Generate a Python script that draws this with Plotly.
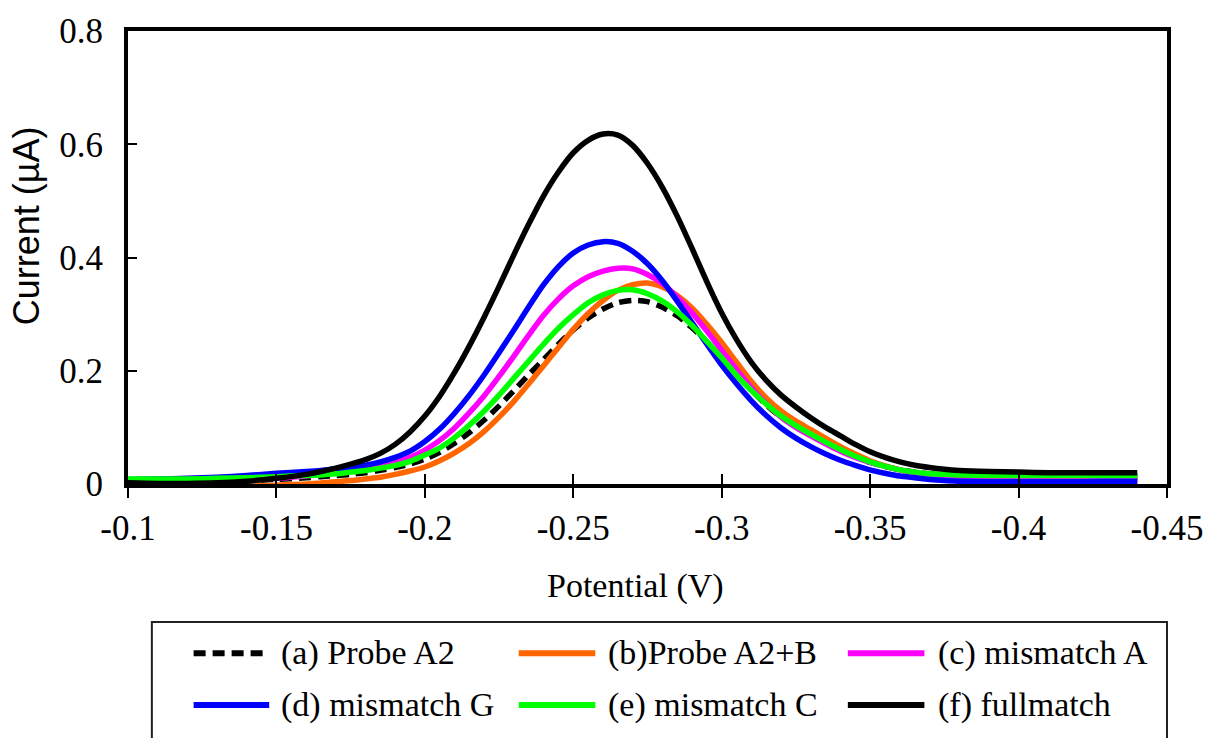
import plotly.graph_objects as go

# Square-wave voltammograms: peak current vs. applied potential
potential = [-0.10, -0.11, -0.12, -0.13, -0.14, -0.15,
             -0.160, -0.165, -0.170, -0.175, -0.180, -0.185, -0.190, -0.195,
             -0.200, -0.205, -0.210, -0.215, -0.220, -0.225, -0.230, -0.235,
             -0.240, -0.245, -0.250, -0.255, -0.260, -0.265, -0.270, -0.275,
             -0.280, -0.285, -0.290, -0.295, -0.300, -0.305, -0.310, -0.315,
             -0.320, -0.325, -0.330, -0.335, -0.340, -0.345, -0.350, -0.355,
             -0.360, -0.365, -0.370, -0.375, -0.380,
             -0.39, -0.40, -0.41, -0.42, -0.43, -0.44]

probe_a2 = [0.003, 0.003, 0.004, 0.005, 0.006, 0.008,
            0.011, 0.013, 0.015, 0.017, 0.020, 0.024, 0.029, 0.035,
            0.044, 0.056, 0.072, 0.091, 0.113, 0.138, 0.165, 0.193,
            0.220, 0.247, 0.272, 0.293, 0.309, 0.320, 0.324, 0.322,
            0.312, 0.297, 0.276, 0.251, 0.223, 0.195, 0.166, 0.140,
            0.118, 0.101, 0.086, 0.072, 0.059, 0.048, 0.038, 0.031,
            0.025, 0.021, 0.018, 0.016, 0.015,
            0.014, 0.013, 0.013, 0.013, 0.013, 0.013]

probe_a2_b = [0.001, -0.001, -0.003, -0.004, -0.004, -0.002,
              0.000, 0.002, 0.004, 0.006, 0.009, 0.012, 0.017, 0.023,
              0.030, 0.041, 0.055, 0.072, 0.093, 0.118, 0.146, 0.177,
              0.209, 0.241, 0.273, 0.301, 0.324, 0.342, 0.352, 0.355,
              0.348, 0.333, 0.311, 0.282, 0.250, 0.215, 0.181, 0.152,
              0.129, 0.111, 0.096, 0.081, 0.066, 0.053, 0.041, 0.032,
              0.025, 0.019, 0.015, 0.012, 0.010,
              0.007, 0.006, 0.005, 0.005, 0.005, 0.005]

mismatch_a = [0.003, 0.003, 0.004, 0.005, 0.007, 0.010,
              0.014, 0.017, 0.020, 0.024, 0.028, 0.032, 0.038, 0.047,
              0.060, 0.077, 0.099, 0.126, 0.156, 0.190, 0.226, 0.263,
              0.298, 0.327, 0.350, 0.366, 0.376, 0.381, 0.380, 0.370,
              0.354, 0.330, 0.302, 0.270, 0.236, 0.202, 0.170, 0.142,
              0.118, 0.100, 0.085, 0.071, 0.058, 0.047, 0.038, 0.031,
              0.025, 0.020, 0.017, 0.014, 0.012,
              0.010, 0.009, 0.008, 0.008, 0.008, 0.008]

mismatch_g = [0.008, 0.009, 0.010, 0.012, 0.015, 0.019,
              0.022, 0.024, 0.027, 0.030, 0.033, 0.039, 0.047, 0.058,
              0.075, 0.097, 0.125, 0.157, 0.193, 0.232, 0.272, 0.313,
              0.352, 0.384, 0.408, 0.422, 0.428, 0.425, 0.411, 0.389,
              0.359, 0.323, 0.285, 0.247, 0.210, 0.177, 0.147, 0.121,
              0.099, 0.081, 0.066, 0.053, 0.042, 0.033, 0.025, 0.019,
              0.014, 0.011, 0.008, 0.006, 0.005,
              0.004, 0.004, 0.004, 0.004, 0.005, 0.005]

mismatch_c = [0.009, 0.009, 0.009, 0.010, 0.011, 0.013,
              0.015, 0.016, 0.018, 0.021, 0.024, 0.028, 0.033, 0.040,
              0.051, 0.064, 0.082, 0.104, 0.129, 0.157, 0.187, 0.217,
              0.247, 0.275, 0.299, 0.320, 0.334, 0.342, 0.343, 0.336,
              0.323, 0.304, 0.280, 0.252, 0.223, 0.192, 0.165, 0.141,
              0.120, 0.103, 0.088, 0.074, 0.061, 0.049, 0.039, 0.031,
              0.025, 0.021, 0.018, 0.017, 0.016,
              0.015, 0.015, 0.015, 0.015, 0.015, 0.015]

fullmatch = [0.002, 0.001, 0.001, 0.002, 0.005, 0.010,
             0.017, 0.022, 0.028, 0.035, 0.043, 0.054, 0.070, 0.092,
             0.120, 0.155, 0.197, 0.244, 0.295, 0.349, 0.405, 0.459,
             0.509, 0.551, 0.585, 0.607, 0.618, 0.616, 0.598, 0.566,
             0.524, 0.473, 0.416, 0.357, 0.302, 0.255, 0.215, 0.183,
             0.157, 0.136, 0.117, 0.100, 0.085, 0.070, 0.057, 0.047,
             0.039, 0.033, 0.029, 0.026, 0.024,
             0.022, 0.021, 0.020, 0.020, 0.020, 0.020]

series_names = ["(a) Probe A2", "(b)Probe A2+B", "(c) mismatch A",
                "(d) mismatch G", "(e) mismatch C", "(f) fullmatch"]
series_values = [probe_a2, probe_a2_b, mismatch_a, mismatch_g, mismatch_c, fullmatch]
series_colors = ["#000000", "#FF6600", "#FF00FF", "#0000FF", "#00FF00", "#000000"]
series_dash = ["12px,7px", "solid", "solid", "solid", "solid", "solid"]

x_tick_vals = [-0.1, -0.15, -0.2, -0.25, -0.3, -0.35, -0.4, -0.45]
x_tick_text = ["-0.1", "-0.15", "-0.2", "-0.25", "-0.3", "-0.35", "-0.4", "-0.45"]
y_tick_vals = [0, 0.2, 0.4, 0.6, 0.8]
y_tick_text = ["0", "0.2", "0.4", "0.6", "0.8"]

W, H = 1215, 738
PLOT_L, PLOT_R, PLOT_T, PLOT_B = 128, 1173, 21, 484
SERIF = "Liberation Serif"
SANS = "Liberation Sans"


def px_x(p):
    return (p - PLOT_L) / (PLOT_R - PLOT_L)


def px_y(p):
    return (PLOT_B - p) / (PLOT_B - PLOT_T)


fig = go.Figure()
for name, vals, color, dash in zip(series_names, series_values, series_colors, series_dash):
    fig.add_trace(go.Scatter(
        x=potential, y=vals, mode="lines", name=name,
        line=dict(color=color, width=5.5, dash=dash, shape="spline", smoothing=0.8),
        showlegend=False,
    ))

axis_font = dict(family=SERIF, size=35, color="black")

fig.update_layout(
    width=W, height=H,
    margin=dict(l=PLOT_L, r=W - PLOT_R, t=PLOT_T, b=H - PLOT_B),
    paper_bgcolor="white", plot_bgcolor="white",
    font=dict(family=SERIF, color="black"),
    xaxis=dict(
        range=[-0.1, -0.45], tickvals=x_tick_vals, ticktext=x_tick_text,
        ticks="outside", ticklen=10, tickwidth=2, tickcolor="black",
        showline=True, linewidth=4, linecolor="black", mirror=True,
        showgrid=False, zeroline=False, tickfont=axis_font,
    ),
    xaxis2=dict(
        overlaying="x", matches="x", side="bottom", anchor="y",
        range=[-0.1, -0.45], tickvals=x_tick_vals,
        ticks="inside", ticklen=10, tickwidth=2, tickcolor="black",
        showticklabels=False, showline=False, showgrid=False, zeroline=False,
    ),
    yaxis=dict(
        range=[0, 0.8], tickvals=y_tick_vals, ticktext=y_tick_text,
        ticks="inside", ticklen=9, tickwidth=2, tickcolor="black",
        showline=True, linewidth=4, linecolor="black", mirror=True,
        showgrid=False, zeroline=False, tickfont=axis_font,
        ticklabelstandoff=14,
    ),
)

# invisible trace so the crossing tick axis is drawn
fig.add_trace(go.Scatter(x=[potential[0]], y=[None], xaxis="x2", showlegend=False,
                         hoverinfo="skip"))

# axis titles
fig.add_annotation(text="Potential (V)", xref="paper", yref="paper",
                   x=px_x(638), y=px_y(588), xanchor="center", yanchor="middle",
                   showarrow=False, font=dict(family=SERIF, size=34, color="black"))
fig.add_annotation(text="Current (µA)", xref="paper", yref="paper",
                   x=px_x(26), y=px_y(220), xanchor="center", yanchor="middle",
                   textangle=-90, showarrow=False,
                   font=dict(family=SANS, size=36, color="black"))

# legend box with two rows of three entries
fig.add_shape(type="rect", xref="paper", yref="paper",
              x0=px_x(152), x1=px_x(1173), y0=px_y(625), y1=px_y(760),
              line=dict(color="#222222", width=2), fillcolor="white", layer="below")

col_line = [(194, 270), (521, 598), (852, 929)]
col_text = [280, 609, 941]
row_y = [657, 710]
for i, (name, color, dash) in enumerate(zip(series_names, series_colors, series_dash)):
    r, c = divmod(i, 3)
    x0, x1 = col_line[c]
    fig.add_shape(type="line", xref="paper", yref="paper",
                  x0=px_x(x0), x1=px_x(x1), y0=px_y(row_y[r]), y1=px_y(row_y[r]),
                  line=dict(color=color, width=6, dash=dash))
    fig.add_annotation(text=name, xref="paper", yref="paper",
                       x=px_x(col_text[c]), y=px_y(row_y[r]),
                       xanchor="left", yanchor="middle", showarrow=False,
                       font=dict(family=SERIF, size=34, color="black"))

fig.write_html("out.html")
